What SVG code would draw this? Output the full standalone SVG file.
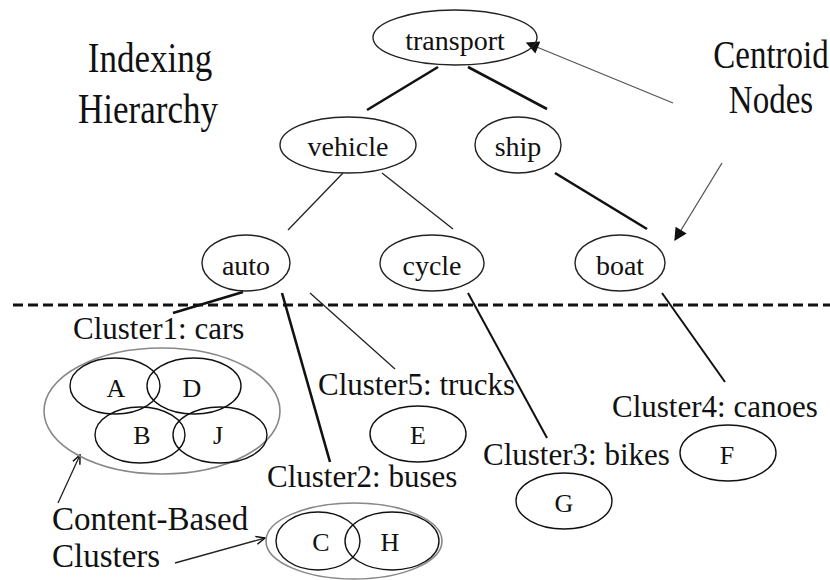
<svg xmlns="http://www.w3.org/2000/svg" width="830" height="580" viewBox="0 0 830 580" font-family="'Liberation Serif', 'Times New Roman', serif">
<style>
text{fill:#111}
.node ellipse{fill:none;stroke:#222;stroke-width:1.4}
.node text{font-size:28px;text-anchor:middle}
.item ellipse{fill:none;stroke:#111;stroke-width:1.4}
.item text{font-size:26px;text-anchor:middle}
.outer{fill:none;stroke:#888;stroke-width:1.6}
.lbl{font-size:31px}
.big{font-size:35px;text-anchor:middle}
.thick{stroke:#111;stroke-width:2.6;fill:none}
.thin{stroke:#222;stroke-width:1.3;fill:none}
.ptr{stroke:#555;stroke-width:1.3;fill:none}
</style>
<defs>
<marker id="tri" viewBox="0 0 10 10" refX="9" refY="5" markerWidth="18" markerHeight="13" markerUnits="userSpaceOnUse" orient="auto"><path d="M0,0 L10,5 L0,10 z" fill="#111"/></marker>
<marker id="open" viewBox="0 0 10 10" refX="9" refY="5" markerWidth="10" markerHeight="10" markerUnits="userSpaceOnUse" orient="auto"><path d="M0,1 L9,5 L0,9" fill="none" stroke="#111" stroke-width="1.5"/></marker>
</defs>

<g id="title-left">
<text class="big" transform="translate(150,72) scale(1,1.2)">Indexing</text>
<text class="big" transform="translate(148,123) scale(1,1.2)">Hierarchy</text>
</g>
<g id="title-right">
<text class="big" style="font-size:33px" transform="translate(771,68) scale(1,1.2)">Centroid</text>
<text class="big" style="font-size:33px" transform="translate(771,113) scale(1,1.2)">Nodes</text>
</g>

<line id="divider" x1="13" y1="305" x2="830" y2="305" stroke="#111" stroke-width="3" stroke-dasharray="10 5"/>

<g id="connectors">
<line class="thick" x1="367" y1="110" x2="438" y2="67"/>
<line class="thick" x1="468" y1="67" x2="547" y2="109"/>
<line class="thick" x1="555" y1="173" x2="647" y2="229"/>
<line class="thin" x1="343" y1="173" x2="288" y2="230"/>
<line class="thin" x1="382" y1="173" x2="453" y2="229"/>
<line class="thick" x1="243" y1="292" x2="173" y2="313"/>
<line class="thick" x1="282" y1="293" x2="330" y2="462"/>
<line class="thin" x1="310" y1="293" x2="395" y2="369"/>
<line class="thick" style="stroke-width:2" x1="468" y1="293" x2="547" y2="438"/>
<line class="thick" style="stroke-width:2" x1="662" y1="293" x2="725" y2="382"/>
<line class="ptr" x1="673" y1="103" x2="527" y2="43" marker-end="url(#tri)"/>
<line class="ptr" x1="722" y1="163" x2="675" y2="240" marker-end="url(#tri)"/>
<line class="ptr" style="stroke:#222" x1="58" y1="503" x2="80" y2="455" marker-end="url(#open)"/>
<line class="ptr" style="stroke:#222" x1="175" y1="563" x2="265" y2="538" marker-end="url(#open)"/>
</g>

<g id="transport" class="node"><ellipse cx="455" cy="37.5" rx="82" ry="27.5"/><text x="455" y="50">transport</text></g>
<g id="vehicle" class="node"><ellipse cx="348" cy="145" rx="68" ry="28"/><text x="348" y="156">vehicle</text></g>
<g id="ship" class="node"><ellipse cx="518" cy="145" rx="43" ry="28"/><text x="518" y="156">ship</text></g>
<g id="auto" class="node"><ellipse cx="246" cy="263" rx="44" ry="28"/><text x="246" y="275">auto</text></g>
<g id="cycle" class="node"><ellipse cx="432" cy="263" rx="52" ry="28"/><text x="432" y="275">cycle</text></g>
<g id="boat" class="node"><ellipse cx="620" cy="263" rx="45" ry="28"/><text x="620" y="275">boat</text></g>

<g id="cluster1">
<text class="lbl" x="73" y="339">Cluster1: cars</text>
<ellipse class="outer" cx="162" cy="411" rx="118" ry="63"/>
<g class="item"><ellipse cx="115" cy="386" rx="45" ry="28"/><text x="116" y="397">A</text></g>
<g class="item"><ellipse cx="194" cy="386" rx="47" ry="28"/><text x="192" y="397">D</text></g>
<g class="item"><ellipse cx="140" cy="435" rx="45" ry="28"/><text x="142" y="444">B</text></g>
<g class="item"><ellipse cx="220" cy="435" rx="47" ry="28"/><text x="218" y="444">J</text></g>
</g>

<g id="cluster5">
<text class="lbl" x="318" y="395">Cluster5: trucks</text>
<g class="item"><ellipse cx="418" cy="434" rx="48" ry="28"/><text x="418" y="444">E</text></g>
</g>

<g id="cluster2">
<text class="lbl" x="267" y="487">Cluster2: buses</text>
<ellipse class="outer" cx="354" cy="541" rx="88" ry="38"/>
<g class="item"><ellipse cx="318" cy="541" rx="42" ry="29"/><text x="321" y="551">C</text></g>
<g class="item"><ellipse cx="392" cy="541" rx="47" ry="29"/><text x="390" y="551">H</text></g>
</g>

<g id="cluster3">
<text class="lbl" x="483" y="465">Cluster3: bikes</text>
<g class="item"><ellipse cx="564" cy="501" rx="48" ry="28"/><text x="564" y="512">G</text></g>
</g>

<g id="cluster4">
<text class="lbl" x="612" y="417">Cluster4: canoes</text>
<g class="item"><ellipse cx="728" cy="453" rx="48" ry="28"/><text x="727" y="464">F</text></g>
</g>

<g id="content-label">
<text class="lbl" style="font-size:33px" x="52" y="530">Content-Based</text>
<text class="lbl" style="font-size:33px" x="52" y="567">Clusters</text>
</g>
</svg>
